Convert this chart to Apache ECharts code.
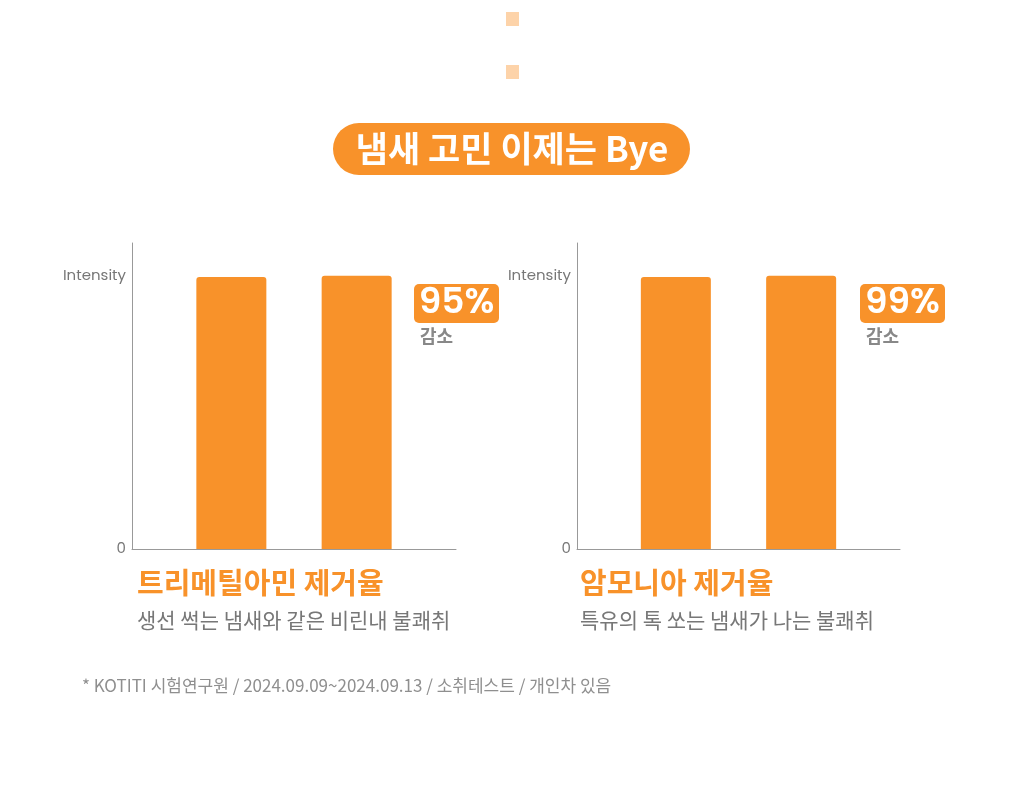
<!DOCTYPE html>
<html>
<head>
<meta charset="utf-8">
<script src="https://cdn.jsdelivr.net/npm/echarts@6/dist/echarts.min.js"></script>
<style>
  html, body { margin: 0; padding: 0; background: #fff; }
  #main { width: 1024px; height: 805px; }
</style>
</head>
<body>
<div id="main"></div>
<script>
// data
var charts = ['트리메틸아민 제거율', '암모니아 제거율'];
var descs = ['생선 썩는 냄새와 같은 비린내 불쾌취', '특유의 톡 쏘는 냄새가 나는 불쾌취'];
var rates = ['95%', '99%'];
var barsA = [99.6, 99.6];   // first bar of each chart
var barsB = [100, 100];     // second bar of each chart
var yTicks = { 0: '0', 100: 'Intensity' };

var ORANGE = '#F8922A';
var FONT = '"Noto Sans CJK KR", "Noto Sans", sans-serif';

var myChart = echarts.init(document.getElementById('main'));

var grids = [
  { left: 132, top: 243, width: 324, height: 306 },
  { left: 577, top: 243, width: 323, height: 306 }
];

var xAxes = [], yAxes = [], series = [], graphic = [];

// little squares on top + title pill
graphic.push(
  { type: 'rect', shape: { x: 506, y: 12, width: 13, height: 14 }, style: { fill: '#FDD3A9' } },
  { type: 'rect', shape: { x: 506, y: 65, width: 13, height: 14 }, style: { fill: '#FDD3A9' } },
  { type: 'rect', shape: { x: 333, y: 123, width: 357, height: 52, r: 26 }, style: { fill: ORANGE } },
  { type: 'text', x: 512, y: 149, style: { text: '냄새 고민 이제는 Bye', fill: '#fff', font: 'bold 35px ' + FONT, textAlign: 'center', textVerticalAlign: 'middle' } },
  { type: 'text', x: 82, y: 686, style: { text: '* KOTITI 시험연구원 / 2024.09.09~2024.09.13 / 소취테스트 / 개인차 있음', fill: '#8f8f8f', font: '17px ' + FONT, textVerticalAlign: 'middle' } }
);

charts.forEach(function (name, i) {
  xAxes.push({
    type: 'category', gridIndex: i, data: [''],
    axisLine: { lineStyle: { color: '#999', width: 1 } },
    axisTick: { show: false }, axisLabel: { show: false }
  });
  yAxes.push({
    type: 'value', gridIndex: i, min: 0, max: 112, interval: 100,
    axisLine: { show: true, lineStyle: { color: '#999', width: 1 } },
    axisTick: { show: false }, splitLine: { show: false },
    axisLabel: {
      showMaxLabel: false, margin: 6, color: '#777', fontSize: 15, fontFamily: 'Poppins, Lato, sans-serif',
      formatter: function (v) { return yTicks[v] || ''; }
    }
  });
  series.push({
    type: 'bar', xAxisIndex: i, yAxisIndex: i, data: [barsA[i]],
    barWidth: 70, barGap: '79%',
    itemStyle: { color: ORANGE, borderRadius: [3, 3, 0, 0] }
  }, {
    type: 'bar', xAxisIndex: i, yAxisIndex: i, data: [barsB[i]],
    barWidth: 70, barGap: '79%',
    itemStyle: { color: ORANGE, borderRadius: [3, 3, 0, 0] }
  });

  var bx = i === 0 ? 414 : 860;
  var tx = i === 0 ? 137 : 580;
  graphic.push(
    { type: 'rect', shape: { x: bx, y: 284, width: 85, height: 39, r: 5 }, style: { fill: ORANGE } },
    { type: 'text', x: bx + 42.5, y: 304, style: { text: rates[i], fill: '#fff', font: '600 36px Poppins, Lato, sans-serif', textAlign: 'center', textVerticalAlign: 'middle' } },
    { type: 'text', x: bx + 6, y: 336, style: { text: '감소', fill: '#888', font: 'bold 18px ' + FONT, textVerticalAlign: 'middle' } },
    { type: 'text', x: tx, y: 583, style: { text: name, fill: ORANGE, font: 'bold 29px ' + FONT, textVerticalAlign: 'middle' } },
    { type: 'text', x: tx, y: 620, style: { text: descs[i], fill: '#777', font: '21px ' + FONT, textVerticalAlign: 'middle' } }
  );
});

var option = {
  backgroundColor: '#fff',
  animation: false,
  grid: grids,
  xAxis: xAxes,
  yAxis: yAxes,
  series: series,
  graphic: graphic
};
myChart.setOption(option);
</script>
</body>
</html>
